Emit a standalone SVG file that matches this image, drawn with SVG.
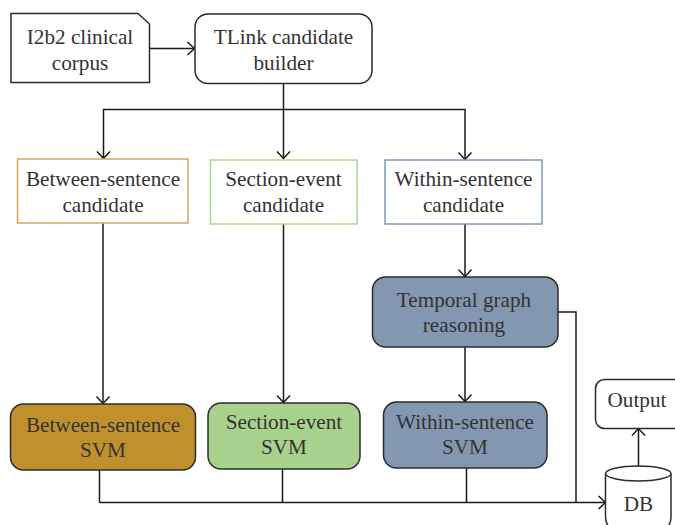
<svg xmlns="http://www.w3.org/2000/svg" width="675" height="525" viewBox="0 0 675 525">
<defs>
<marker id="a" markerUnits="userSpaceOnUse" markerWidth="16" markerHeight="16" refX="12" refY="8" orient="auto"><path d="M5 1.500L12 8L5 14.500" fill="none" stroke="#1a1a1a" stroke-width="1.500"/></marker>
</defs>
<style>
text{font-family:"Liberation Serif","Times New Roman",serif;font-size:21.200px;fill:#333;text-anchor:middle}
.k{stroke:#2b2b2b;stroke-width:1.500;fill:#fff}
.c{fill:none;stroke:#1a1a1a;stroke-width:1.500}
.ah{marker-end:url(#a)}
</style>
<rect width="675" height="525" fill="#fff"/>
<g id="connectors">
<path class="c ah" d="M150 48.500H194.500"/>
<path class="c" d="M283.500 84V109.500"/>
<path class="c ah" d="M283.500 109.500V158.500"/>
<path class="c ah" d="M283.500 109.500H103.500V158.500"/>
<path class="c ah" d="M283.500 109.500H465V159.500"/>
<path class="c ah" d="M103 223V403.500"/>
<path class="c ah" d="M283.500 224V402.500"/>
<path class="c ah" d="M465 224V276.500"/>
<path class="c ah" d="M465 347V401.500"/>
<path class="c" d="M99.500 470V502.500"/>
<path class="c" d="M282.500 469V502.500"/>
<path class="c" d="M466.500 468V502.500"/>
<path class="c" d="M558 312H576V502.500"/>
<path class="c ah" d="M99.500 502.500H605.500"/>
<path class="c ah" d="M638.500 466V428.500"/>
</g>
<g id="corpus"><path class="k" d="M11 13.500H138L149.500 24V82.500H11Z"/><text x="80" y="44">I2b2 clinical</text><text x="80" y="70">corpus</text></g>
<g id="builder"><rect class="k" x="195" y="14" width="177" height="69.500" rx="13"/><text x="283.500" y="44">TLink candidate</text><text x="283.500" y="69.500">builder</text></g>
<g id="between-candidate"><rect x="17.500" y="159" width="170.500" height="64" fill="#fff" stroke="#cfa95f" stroke-width="1.500"/><text x="103" y="186">Between-sentence</text><text x="103" y="212">candidate</text></g>
<g id="section-candidate"><rect x="210.500" y="160" width="146.500" height="64" fill="#fff" stroke="#add78f" stroke-width="1.500"/><text x="283.500" y="186">Section-event</text><text x="283.500" y="212">candidate</text></g>
<g id="within-candidate"><rect x="385" y="160" width="157" height="64" fill="#fff" stroke="#7f97bb" stroke-width="1.500"/><text x="463.500" y="186">Within-sentence</text><text x="463.500" y="212">candidate</text></g>
<g id="temporal"><rect class="k" x="372.500" y="277" width="185.500" height="70" rx="13" style="fill:#8497b0"/><text x="464" y="307">Temporal graph</text><text x="464" y="332">reasoning</text></g>
<g id="between-svm"><rect class="k" x="10.500" y="404" width="185" height="66" rx="13" style="fill:#bf902c"/><text x="103" y="432">Between-sentence</text><text x="103" y="457">SVM</text></g>
<g id="section-svm"><rect class="k" x="208" y="403" width="152" height="66" rx="13" style="fill:#a9d18e"/><text x="284" y="429">Section-event</text><text x="284" y="454">SVM</text></g>
<g id="within-svm"><rect class="k" x="383.500" y="402" width="163.500" height="66" rx="13" style="fill:#8497b0"/><text x="465" y="429">Within-sentence</text><text x="465" y="454">SVM</text></g>
<g id="output"><rect class="k" x="595.500" y="379.500" width="90" height="49" rx="9"/><text x="637" y="407">Output</text></g>
<g id="db"><path d="M605.500 474V517Q605.500 525 612 530H665Q671 525 671 517V474" class="k"/><ellipse class="k" cx="638.250" cy="473.500" rx="32.750" ry="7.500"/><text x="638.500" y="511">DB</text></g>
</svg>
